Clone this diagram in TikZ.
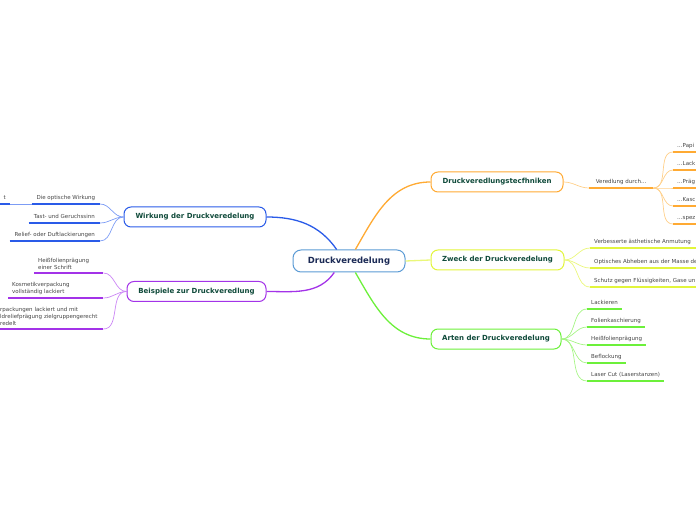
\documentclass[tikz,border=0pt]{standalone}
\usepackage{fontspec}
\setmainfont{DejaVu Sans}
\usepackage{xcolor}
\definecolor{dvroot}{HTML}{5B9BD5}
\definecolor{dvnavy}{HTML}{1B2A55}
\definecolor{dvtext}{HTML}{0F4A3A}
\definecolor{dvgrey}{HTML}{444444}
\definecolor{dvorange}{HTML}{FFAA33}
\definecolor{dvorangel}{HTML}{FFD08A}
\definecolor{dvyellow}{HTML}{E2F53B}
\definecolor{dvyellowl}{HTML}{EAF77A}
\definecolor{dvgreen}{HTML}{6CF03A}
\definecolor{dvgreenl}{HTML}{A6F585}
\definecolor{dvblue}{HTML}{2A5BE8}
\definecolor{dvbluel}{HTML}{7C9CF5}
\definecolor{dvpurple}{HTML}{A333E8}
\definecolor{dvpurplel}{HTML}{CB85F5}
\usetikzlibrary{calc}

\begin{document}
\begin{tikzpicture}[x=1pt, y=1pt,
  root/.style={rectangle, rounded corners=8pt, draw=dvroot, line width=1pt, fill=white,
    minimum width=112pt, minimum height=22pt, text=dvnavy,
    font=\fontsize{8.5}{10}\selectfont\bfseries},
  topic/.style={rectangle, rounded corners=7pt, line width=1pt, fill=white,
    minimum height=20pt, text=dvtext, font=\fontsize{7}{8}\selectfont\bfseries},
  leaf/.style={inner xsep=4pt, inner ysep=2.5pt, text depth=1.5pt, text=dvgrey,
    align=left, font=\fontsize{5.5}{7}\selectfont},
  leafm/.style={leaf, text depth={}, inner ysep=3.5pt},
  branch/.style={line width=1.3pt},
  twig/.style={line width=0.7pt},
  ul/.style={line width=1.8pt}
]
\useasboundingbox (0,0) rectangle (696,520);
\coordinate (rimL) at (0,0);
\coordinate (rimR) at (696,0);

% centre
\node[root] (ctr) at (349,259) {Druckveredelung};

% main topics
\node[topic, draw=dvorange, minimum width=132pt] (tech) at (497,338) {Druckveredlungstecfhniken};
\node[topic, draw=dvyellow, minimum width=133pt] (zweck) at (497.5,260) {Zweck der Druckveredelung};
\node[topic, draw=dvgreen, minimum width=130pt] (arten) at (496,181) {Arten der Druckveredelung};
\node[topic, draw=dvblue, minimum width=142pt] (wirk) at (195,303) {Wirkung der Druckveredelung};
\node[topic, draw=dvpurple, minimum width=139pt] (beis) at (196.5,228.5) {Beispiele zur Druckveredlung};

\draw[branch, dvorange] (ctr.61) to[out=60, in=180] (tech.west);
\draw[branch, dvyellowl] (ctr.east) -- (zweck.west);
\draw[branch, dvgreen] (ctr.-61) to[out=-60, in=180] (arten.west);
\draw[branch, dvblue] (ctr.137) to[out=125, in=0] (wirk.east);
\draw[branch, dvpurple] (ctr.218) to[out=-125, in=0] (beis.east);

% Druckveredlungstecfhniken
\node[leaf, anchor=south west, minimum width=64pt] (vd) at (589,332) {Veredlung durch…};
\node[leaf, anchor=south west] (t1) at (673,368) {…Papi};
\node[leaf, anchor=south west] (t2) at (673,350) {…Lack};
\node[leaf, anchor=south west] (t3) at (673,332) {…Präg};
\node[leaf, anchor=south west] (t4) at (673,314) {…Kasc};
\node[leaf, anchor=south west] (t5) at (673,296) {…spez};
\draw[twig, dvorangel] (tech.east) to[out=0, in=180] (vd.south west);
\foreach \n in {t1,t2,t3,t4,t5}
  \draw[twig, dvorangel] (vd.south east) to[out=0, in=180] (\n.south west);
\draw[ul, dvorange] (vd.south west) -- (vd.south east);
\foreach \n in {t1,t2,t3,t4,t5}
  \draw[ul, dvorange] (\n.south west) -- (\n.south west -| rimR);

% Zweck der Druckveredelung
\node[leaf, anchor=south west] (z1) at (590,272) {Verbesserte ästhetische Anmutung};
\node[leaf, anchor=south west] (z2) at (590,252) {Optisches Abheben aus der Masse de};
\node[leaf, anchor=south west] (z3) at (590,233) {Schutz gegen Flüssigkeiten, Gase un};
\foreach \n in {z1,z2,z3} {
  \draw[twig, dvyellowl] (zweck.east) to[out=0, in=180] (\n.south west);
  \draw[ul, dvyellow] (\n.south west) -- (\n.south west -| rimR);
}

% Arten der Druckveredelung
\node[leaf, anchor=south west] (a1) at (587,211) {Lackieren};
\node[leaf, anchor=south west] (a2) at (587,193) {Folienkaschierung};
\node[leaf, anchor=south west] (a3) at (587,175) {Heißfolienprägung};
\node[leaf, anchor=south west] (a4) at (587,157) {Beflockung};
\node[leaf, anchor=south west] (a5) at (587,139) {Laser Cut (Laserstanzen)};
\foreach \n in {a1,a2,a3,a4,a5} {
  \draw[twig, dvgreenl] (arten.east) to[out=0, in=180] (\n.south west);
  \draw[ul, dvgreen] (\n.south west) -- (\n.south east);
}

% Wirkung der Druckveredelung
\node[leaf, anchor=south east, minimum width=68pt, align=right] (w1) at (100,316) {Die optische Wirkung};
\node[leaf, anchor=south east, minimum width=71pt] (w2) at (100,297) {Tast- und Geruchssinn};
\node[leaf, anchor=south east, minimum width=90pt] (w3) at (100,279) {Relief- oder Duftlackierungen};
\node[leaf, anchor=south east] (w0) at (10,316) {t};
\foreach \n in {w1,w2,w3} {
  \draw[twig, dvbluel] (wirk.west) to[out=180, in=0] (\n.south east);
  \draw[ul, dvblue] (\n.south west) -- (\n.south east);
}
\draw[twig, dvbluel] (w1.south west) -- (w0.south east);
\draw[ul, dvblue] (w0.south east) -- (w0.south east -| rimL);

% Beispiele zur Druckveredlung
\node[leafm, anchor=south west, text width=61pt] (b1) at (34,247) {Heißfolienprägung\\einer Schrift};
\node[leafm, anchor=south west, text width=87pt] (b2) at (8,222) {Kosmetikverpackung\\vollständig lackiert};
\node[leafm, anchor=south west, text width=99pt] (b3) at (-4,191) {rpackungen lackiert und mit\\ldreliefprägung zielgruppengerecht\\redelt};
\foreach \n in {b1,b2,b3}
  \draw[twig, dvpurplel] (beis.west) to[out=180, in=0] (\n.south east);
\draw[ul, dvpurple] (b1.south west) -- (b1.south east);
\draw[ul, dvpurple] (b2.south west) -- (b2.south east);
\draw[ul, dvpurple] (b3.south east) -- (b3.south east -| rimL);
\end{tikzpicture}
\end{document}
